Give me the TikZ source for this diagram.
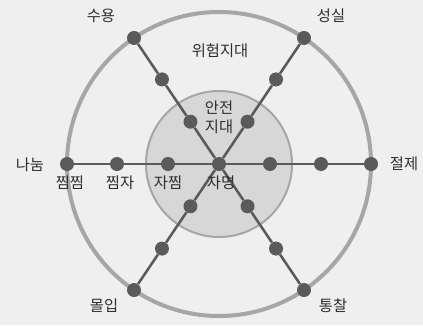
\documentclass[tikz,border=0pt]{standalone}
\usepackage{fontspec}
\setmainfont{Noto Sans CJK KR}
\usetikzlibrary{positioning}
\definecolor{paper}{HTML}{EFEFEF}
\definecolor{ring}{HTML}{A6A6A6}
\definecolor{safe}{HTML}{D7D7D7}
\definecolor{ink}{HTML}{5A5A5A}
\definecolor{word}{HTML}{2E2E2E}

\begin{document}
\begin{tikzpicture}[
  x=0.75pt, y=0.75pt,
  font=\fontsize{11.5}{14}\selectfont,
  dot/.style={circle, fill=ink, inner sep=0pt, minimum size=10.5pt},
  spoke/.style={draw=ink, line width=1.9pt},
  lbl/.style={text=word, inner sep=1pt, align=center}
]
  \fill[paper] (-219,-161) rectangle (204,164);
  \useasboundingbox (-219,-161) rectangle (204,164);
  % zones
  \draw[ring, line width=3pt] (0,0) circle (152);
  \draw[ring, fill=safe, line width=1.5pt] (0,0) circle (73);
  % dots
  \node[dot] (c)   at (0,0) {};
  \node[dot] (e1)  at (0:51) {};
  \node[dot] (e2)  at (0:102) {};
  \node[dot] (e3)  at (0:152) {};
  \node[dot] (w1)  at (180:51) {};
  \node[dot] (w2)  at (180:102) {};
  \node[dot] (w3)  at (180:152) {};
  \node[dot] (ne1) at (56:51) {};
  \node[dot] (ne2) at (56:102) {};
  \node[dot] (ne3) at (56:152) {};
  \node[dot] (nw1) at (124:51) {};
  \node[dot] (nw2) at (124:102) {};
  \node[dot] (nw3) at (124:152) {};
  \node[dot] (sw1) at (236:51) {};
  \node[dot] (sw2) at (236:102) {};
  \node[dot] (sw3) at (236:152) {};
  \node[dot] (se1) at (304:51) {};
  \node[dot] (se2) at (304:102) {};
  \node[dot] (se3) at (304:152) {};
  \draw[spoke] (w3) -- (w2) -- (w1) -- (c) -- (e1) -- (e2) -- (e3);
  \draw[spoke] (nw3) -- (nw2) -- (nw1) -- (c) -- (se1) -- (se2) -- (se3);
  \draw[spoke] (ne3) -- (ne2) -- (ne1) -- (c) -- (sw1) -- (sw2) -- (sw3);
  % labels
  \node[lbl] (suyong)  at (-118,148) {수용};
  \node[lbl] (seongsil) at (112,148) {성실};
  \node[lbl] (risk)    at (1,113)    {위험지대};
  \node[lbl] (safezone) at (0,47)    {안전\\지대};
  \node[lbl] (nanum)   at (-189,-1)  {나눔};
  \node[lbl] (jeolje)  at (185,0)    {절제};
  \node[lbl] (jjj)     at (-149,-19) {찜찜};
  \node[lbl] (jjja)    at (-99,-19)  {찜자};
  \node[lbl] (jajj)    at (-51,-19)  {자찜};
  \node[lbl] (jamyeong) at (2,-19)   {자명};
  \node[lbl] (molip)   at (-115,-142) {몰입};
  \node[lbl] (tongchal) at (114,-142) {통찰};
\end{tikzpicture}
\end{document}
